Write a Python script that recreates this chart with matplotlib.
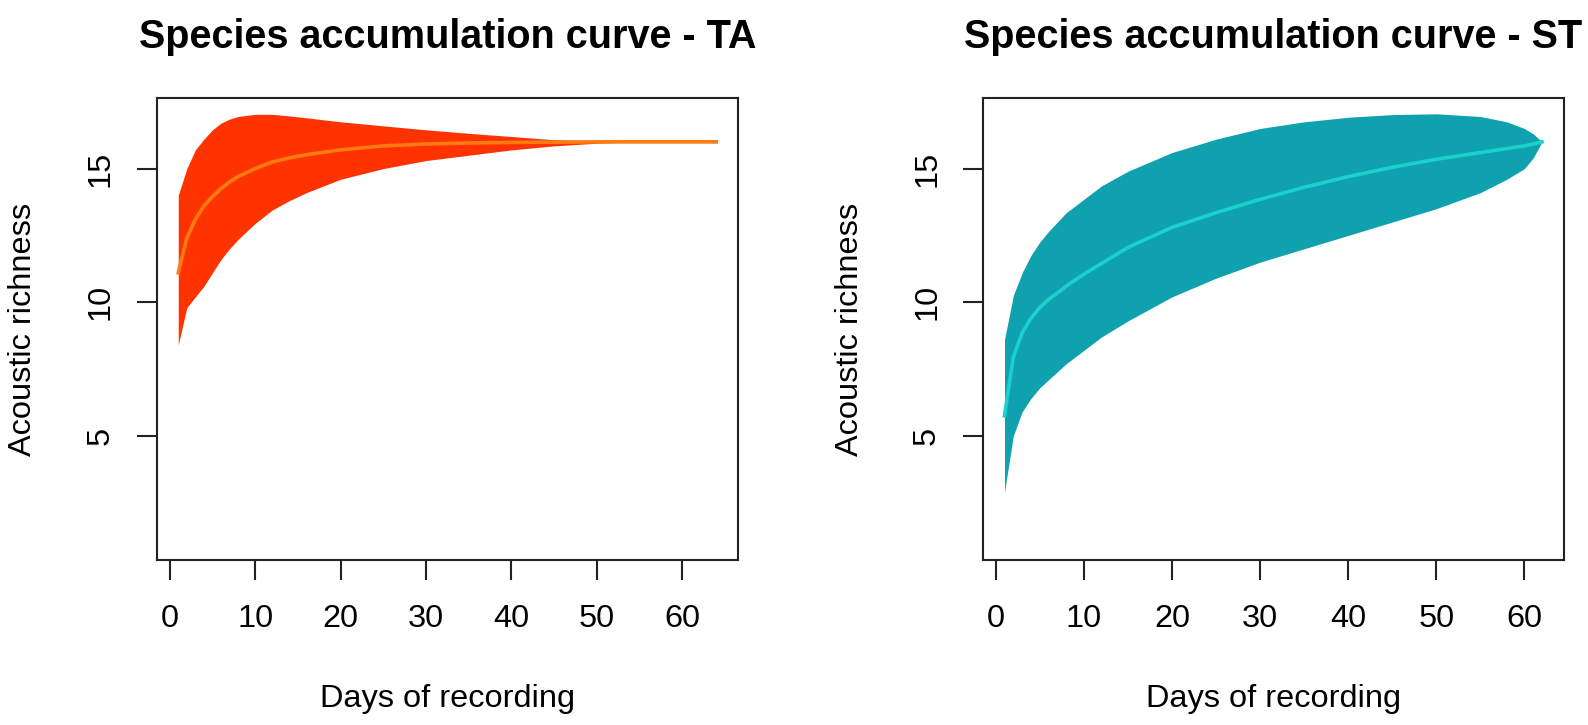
import matplotlib
matplotlib.use("Agg")
import matplotlib.pyplot as plt

plt.rcParams['font.family'] = ['Liberation Sans', 'DejaVu Sans']

# TA site: days, rarefied mean and confidence band
ta_days = [1, 2, 3, 4, 5, 6, 7, 8, 10, 12, 14, 16, 20, 25, 30, 35, 40, 45, 50, 55, 60, 64]
ta_mean = [11.1, 12.4, 13.1, 13.6, 13.95, 14.25, 14.5, 14.7, 15.0, 15.25, 15.4, 15.52,
           15.7, 15.85, 15.92, 15.96, 15.98, 15.99, 16.0, 16.0, 16.0, 16.0]
ta_upper = [14.0, 15.0, 15.7, 16.1, 16.45, 16.7, 16.85, 16.95, 17.03, 17.03, 16.97, 16.9,
            16.75, 16.6, 16.45, 16.32, 16.2, 16.08, 16.02, 16.0, 16.0, 16.0]
ta_lower = [8.4, 9.8, 10.2, 10.6, 11.1, 11.6, 12.0, 12.35, 12.95, 13.45, 13.8, 14.1,
            14.6, 15.0, 15.3, 15.5, 15.7, 15.85, 15.95, 16.0, 16.0, 16.0]

# ST site
st_days = [1, 2, 3, 4, 5, 6, 8, 10, 12, 15, 20, 25, 30, 35, 40, 45, 50, 55, 58, 60, 61, 62]
st_mean = [5.75, 7.95, 8.85, 9.4, 9.8, 10.1, 10.6, 11.05, 11.45, 12.05, 12.8, 13.35,
           13.85, 14.3, 14.7, 15.05, 15.35, 15.6, 15.75, 15.85, 15.92, 16.0]
st_upper = [8.6, 10.25, 11.1, 11.75, 12.25, 12.65, 13.35, 13.85, 14.35, 14.9, 15.6, 16.1,
            16.5, 16.75, 16.92, 17.02, 17.05, 16.95, 16.75, 16.5, 16.3, 16.0]
st_lower = [2.9, 5.0, 5.9, 6.4, 6.8, 7.1, 7.7, 8.2, 8.7, 9.3, 10.2, 10.9,
            11.5, 12.0, 12.5, 13.0, 13.5, 14.1, 14.6, 15.0, 15.4, 16.0]

x_ticks = [0, 10, 20, 30, 40, 50, 60]
y_ticks = [5, 10, 15]

panels = [
    ("Species accumulation curve - TA", ta_days, ta_mean, ta_upper, ta_lower,
     '#FF3300', '#FF7A10', [0.0987, 0.2276, 0.3659, 0.6372]),
    ("Species accumulation curve - ST", st_days, st_mean, st_upper, st_lower,
     '#10A1AE', '#1CD0D0', [0.6190, 0.2276, 0.3656, 0.6372]),
]

fig = plt.figure(figsize=(15.88, 7.25), dpi=100)

for title, days, mean, upper, lower, fill_col, line_col, pos in panels:
    ax = fig.add_axes(pos)
    ax.fill_between(days, lower, upper, color=fill_col, linewidth=0)
    ax.plot(days, mean, color=line_col, linewidth=2.6)

    # R-style 4% padding around the data range
    span = days[-1] - days[0]
    ax.set_xlim(days[0] - 0.04 * span, days[-1] + 0.04 * span)
    ax.set_ylim(1 - 0.04 * 16, 17 + 0.04 * 16)

    ax.set_xticks(x_ticks)
    ax.set_xticklabels([str(t) for t in x_ticks], fontsize=23.4)
    ax.set_yticks(y_ticks)
    ax.set_yticklabels([str(t) for t in y_ticks], fontsize=23.4, rotation=90, va='center')
    ax.tick_params(axis='both', direction='out', length=14.4, width=1.5, color='#222222')
    ax.tick_params(axis='x', pad=17)
    ax.tick_params(axis='y', pad=15)
    for s in ax.spines.values():
        s.set_linewidth(1.5)
        s.set_color('#222222')

    ax.set_xlabel("Days of recording", fontsize=23.4)
    ax.xaxis.set_label_coords(0.5, -0.2675)
    ax.set_ylabel("Acoustic richness", fontsize=23.4)
    ax.yaxis.set_label_coords(-0.204, 0.5)
    ax.set_title(title, fontsize=28.5, fontweight='bold', pad=36)

fig.savefig("out.png", dpi=100)
